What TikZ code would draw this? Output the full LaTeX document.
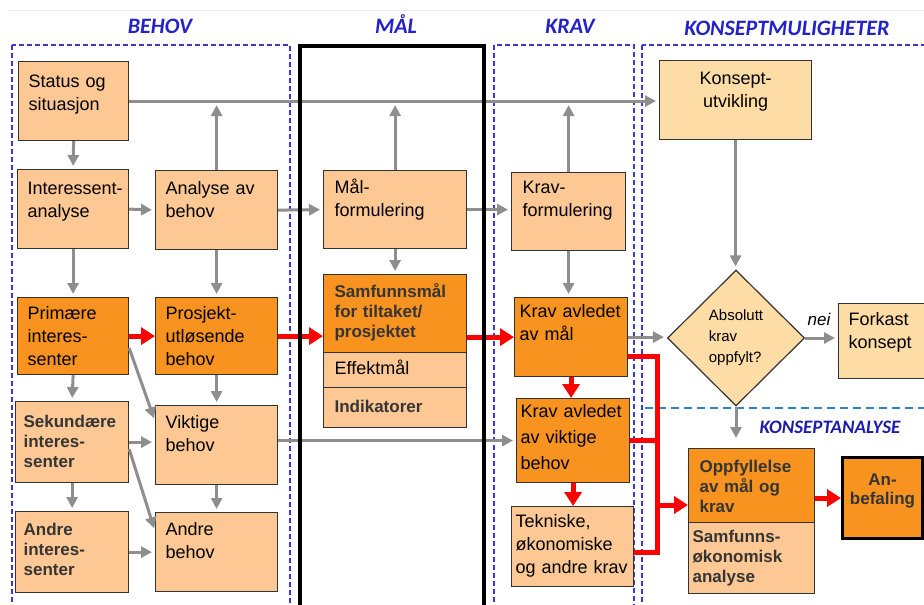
\documentclass[tikz,border=0pt]{standalone}
\usepackage{fontspec}
\setmainfont{Liberation Sans}
\newfontfamily\overskriftfont{Carlito}
\usetikzlibrary{arrows.meta, shapes.geometric}

\definecolor{lysoransj}{HTML}{FDC894}
\definecolor{morkoransj}{HTML}{F7931E}
\definecolor{lysgul}{HTML}{FDDCA6}
\definecolor{linje}{HTML}{333333}
\definecolor{fettekst}{HTML}{353535}
\definecolor{graapil}{HTML}{8E8E8E}
\definecolor{soneblaa}{HTML}{3A3ACF}
\definecolor{overskriftblaa}{HTML}{2222C8}
\definecolor{skilleblaa}{HTML}{2E86C9}

\begin{document}
\begin{tikzpicture}[
  x=1pt, y=-1pt,
  box/.style={draw=linje, line width=1.2pt, anchor=north west, align=left, inner xsep=10pt, inner ysep=0pt, font=\fontsize{18}{23}\selectfont},
  lys/.style={box, fill=lysoransj},
  mork/.style={box, fill=morkoransj},
  gul/.style={box, fill=lysgul},
  fet/.style={font=\bfseries\fontsize{17}{20}\selectfont, text=fettekst},
  overskrift/.style={anchor=base, font=\overskriftfont\bfseries\itshape\fontsize{22}{25}\selectfont, text=overskriftblaa},
  sone/.style={draw=soneblaa, line width=1.3pt, dash pattern=on 5pt off 3pt},
  graa/.style={draw=graapil, line width=3pt, -{Triangle[length=11pt, width=11pt]}, shorten >=3pt},
  rod/.style={draw=red, line width=5pt},
  rodpil/.style={rod, -{Triangle[length=14pt, width=17pt]}}
]
\useasboundingbox (0,0) rectangle (924,605);

% soner
\draw[gray!15, line width=1pt] (8,10) -- (924,10);
\draw[sone] (12,45) rectangle (290,625);
\draw[sone] (494,45) rectangle (634,625);
\draw[sone] (642,45) rectangle (940,625);
\draw[skilleblaa, line width=1.5pt, dash pattern=on 8pt off 5pt] (645,408) -- (930,408);

\node[overskrift] (behov) at (160,33) {BEHOV};
\node[overskrift] (maal) at (396,33) {MÅL};
\node[overskrift] (krav) at (570,33) {KRAV};
\node[overskrift] (konseptmul) at (787,35) {KONSEPTMULIGHETER};
\node[overskrift, font=\overskriftfont\bfseries\itshape\fontsize{19}{22}\selectfont, text=overskriftblaa!85!black] (konseptanalyse) at (830,433) {KONSEPTANALYSE};

% behov
\node[lys, text width=90pt, text height=26pt, text depth=53pt] (status) at (18,61) {Status og\\situasjon};
\node[lys, text width=91pt, text height=25pt, text depth=54pt] (interessent) at (17,169) {\mbox{Interessent-}\\analyse};
\node[lys, text width=102pt, text height=24pt, text depth=55pt] (analyse) at (155,170) {Analyse av\\behov};
\node[mork, text width=91pt, text height=22pt, text depth=55pt] (primaere) at (17,297) {Primære\\interes-\\senter};
\node[mork, text width=102pt, text height=22pt, text depth=55pt] (prosjekt) at (155,297) {Prosjekt-\\utløsende\\behov};
\node[lys, fet, inner xsep=8pt, text width=97pt, text height=26pt, text depth=55pt] (sekundaere) at (15,401) {Sekundære\\interes-\\senter};
\node[lys, text width=102pt, text height=23pt, text depth=56pt] (viktige) at (155,405) {Viktige\\behov};
\node[lys, fet, inner xsep=8pt, text width=97pt, text height=24pt, text depth=57pt] (andreint) at (15,511) {Andre\\interes-\\senter};
\node[lys, text width=102pt, text height=23pt, text depth=56pt] (andrebehov) at (155,512) {Andre\\behov};

% maal
\node[lys, inner xsep=11pt, text width=121pt, text height=23pt, text depth=55pt] (maalform) at (323,170) {Mål-\\formulering};
\node[mork, fet, inner xsep=11pt, text width=121pt, text height=23pt, text depth=55pt] (samfunnsmaal) at (323,274) {Samfunnsmål\\for tiltaket/\\prosjektet};
\node[lys, inner xsep=11pt, text width=121pt, text height=22pt, text depth=13pt] (effektmaal) at (323,352) {Effektmål};
\node[lys, fet, inner xsep=11pt, text width=121pt, text height=25pt, text depth=15pt] (indikatorer) at (323,387) {Indikatorer};

% krav
\node[lys, inner xsep=11pt, text width=92pt, text height=21pt, text depth=57pt] (kravform) at (511,172) {Krav-\\formulering};
\node[mork, inner xsep=5pt, text width=103pt, text height=20pt, text depth=59pt] (kravmaal) at (514,297) {Krav avledet\\av mål};
\node[mork, inner xsep=4pt, text width=105pt, text height=19pt, text depth=65pt, font=\fontsize{18}{26}\selectfont] (kravviktige) at (516,398) {Krav avledet\\av viktige\\behov};
\node[lys, inner xsep=4pt, text width=114pt, text height=21pt, text depth=59pt] (tekniske) at (511,506) {Tekniske,\\økonomiske\\og andre krav};

% konsept
\node[gul, align=center, text width=132pt, text height=24pt, text depth=55pt] (konsept) at (659,60) {Konsept-\\utvikling};
\node[diamond, draw=linje, line width=1.2pt, fill=lysgul, minimum width=137pt, minimum height=136pt, inner sep=0pt, align=left, font=\fontsize{15}{21}\selectfont] (absolutt) at (736,338) {Absolutt\\krav\\oppfylt?};
\node[gul, text width=70pt, text height=22pt, text depth=53pt] (forkast) at (838,303) {Forkast\\konsept};
\node[font=\itshape\fontsize{17}{20}\selectfont, anchor=base] (nei) at (819,325) {nei};
\node[mork, fet, inner xsep=11pt, text width=104pt, text height=24pt, text depth=50pt] (oppfyllelse) at (688,448) {Oppfyllelse\\av mål og\\krav};
\node[lys, fet, inner xsep=4pt, text width=118pt, text height=20pt, text depth=51pt] (samfunnsok) at (688,522) {Samfunns-\\økonomisk\\analyse};
\node[mork, fet, draw=black, line width=3pt, align=center, inner xsep=5pt, text width=70pt, text height=28pt, text depth=53pt, font=\bfseries\fontsize{17}{19}\selectfont] (anbefaling) at (841,456) {An-\\befaling};

% grå piler
\draw[graa] (status.east) -- (status.east -| konsept.west);
\draw[graa, shorten >=4pt] (analyse.north) -- (analyse.north |- status.east);
\draw[graa, shorten >=4pt] (maalform.north) -- (maalform.north |- status.east);
\draw[graa, shorten >=4pt] (kravform.north) -- (kravform.north |- status.east);
\draw[graa] (status.south) -- (interessent.north);
\draw[graa] (interessent.east) -- (analyse.west);
\draw[graa] (interessent.south) -- (primaere.north);
\draw[graa] (analyse.south) -- (prosjekt.north);
\draw[graa] (analyse.east) -- (maalform.west);
\draw[graa] (maalform.east) -- (maalform.east -| kravform.west);
\draw[graa] (maalform.south) -- (samfunnsmaal.north);
\draw[graa] (kravform.south) -- (kravform.south |- kravmaal.north);
\draw[graa] (primaere.south) -- (sekundaere.north);
\draw[graa] ([yshift=-12pt]primaere.east) -- ([yshift=24pt]viktige.west);
\draw[graa] (prosjekt.south) -- (viktige.north);
\draw[graa] (sekundaere.east) -- (sekundaere.east -| viktige.west);
\draw[graa] ([yshift=-7pt]sekundaere.east) -- ([yshift=21pt]andrebehov.west);
\draw[graa] (sekundaere.south) -- (andreint.north);
\draw[graa] (viktige.south) -- (andrebehov.north);
\draw[graa] (andreint.east) -- (andrebehov.west);
\draw[graa] (viktige.east |- kravviktige.west) -- (kravviktige.west);
\draw[graa] (konsept.south) -- (konsept.south |- absolutt.north);
\draw[graa] (kravmaal.east) -- (kravmaal.east -| absolutt.west);
\draw[graa] (absolutt.east) -- (absolutt.east -| forkast.west);
\draw[graa, shorten >=10pt] (absolutt.south) -- (absolutt.south |- oppfyllelse.north);

% røde piler
\coordinate (skinne) at (657,505);
\coordinate (teknut) at ([yshift=-6pt]tekniske.east);
\coordinate (maalut) at ([yshift=-19.5pt]kravmaal.east);
\draw[rodpil] (primaere.east) -- (prosjekt.west);
\draw[rodpil] (prosjekt.east) -- (prosjekt.east -| samfunnsmaal.west);
\draw[rodpil] (samfunnsmaal.east |- kravmaal.west) -- (kravmaal.west);
\draw[rodpil] (kravmaal.south) -- (kravmaal.south |- kravviktige.north);
\draw[rodpil] (kravviktige.south) -- (kravviktige.south |- tekniske.north);
\draw[rod] (maalut) -| (skinne |- teknut) -- (teknut);
\draw[rod] (kravviktige.east) -- (kravviktige.east -| skinne);
\draw[rodpil] (skinne) -- (skinne -| oppfyllelse.west);
\draw[rodpil] (oppfyllelse.east |- anbefaling.west) -- (anbefaling.west);

% mål-ramme
\draw[black, line width=4pt] (300,46) rectangle (484,625);
\end{tikzpicture}
\end{document}
